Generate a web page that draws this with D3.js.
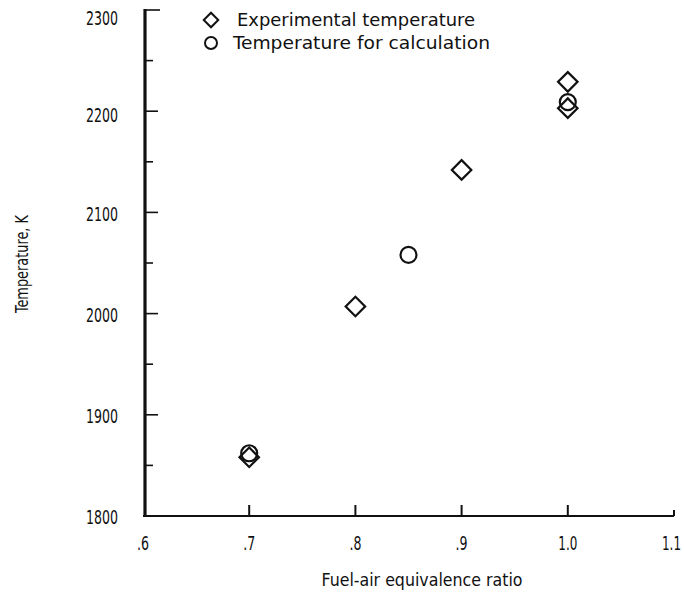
<!DOCTYPE html>
<html>
<head>
<meta charset="utf-8">
<script src="https://cdn.jsdelivr.net/npm/d3@7"></script>
<style>
  html, body { margin: 0; padding: 0; background: #fff; }
  svg text { font-family: "Liberation Sans Narrow", "DejaVu Sans Condensed", "Roboto Condensed", sans-serif; fill: #111; }
</style>
</head>
<body>
<svg id="chart" width="684" height="598"></svg>
<script>
// ---- data ----
const expPhi   = [0.70, 0.80, 0.90, 1.00, 1.00];
const expTemp  = [1858, 2007, 2142, 2229, 2203];
const calcPhi  = [0.70, 0.85, 1.00];
const calcTemp = [1862, 2058, 2209];
const xTicks = [0.6, 0.7, 0.8, 0.9, 1.0, 1.1];
const xTickLabels = [".6", ".7", ".8", ".9", "1.0", "1.1"];
const yTicks = [1800, 1900, 2000, 2100, 2200, 2300];
const yMinorTicks = [1850, 1950, 2050, 2150, 2250];
const legendLabels = ["Experimental temperature", "Temperature for calculation"];
const xTitle = "Fuel-air equivalence ratio";
const yTitle = "Temperature, K";

// ---- layout ----
const svg = d3.select("#chart");
const x = d3.scaleLinear().domain([0.6, 1.1]).range([143, 674]);
const y = d3.scaleLinear().domain([1800, 2300]).range([516, 10]);
const ink = "#111";

// axes lines
svg.append("line").attr("x1", x(0.6)).attr("x2", x(1.1)).attr("y1", y(1800)).attr("y2", y(1800))
  .attr("stroke", ink).attr("stroke-width", 2);
svg.append("line").attr("x1", 145).attr("x2", 145).attr("y1", y(2300) - 1).attr("y2", y(1800) + 1)
  .attr("stroke", ink).attr("stroke-width", 3.2);

// y ticks (inward)
svg.selectAll(".ymaj").data(yTicks.filter(d => d > 1800)).enter().append("line")
  .attr("x1", 145).attr("x2", d => d === 2300 ? 160 : 158)
  .attr("y1", d => y(d)).attr("y2", d => y(d))
  .attr("stroke", ink).attr("stroke-width", 1.6);
svg.selectAll(".ymin").data(yMinorTicks).enter().append("line")
  .attr("x1", 145).attr("x2", 153)
  .attr("y1", d => y(d)).attr("y2", d => y(d))
  .attr("stroke", ink).attr("stroke-width", 1.6);
svg.selectAll(".ylab").data(yTicks).enter().append("text")
  .attr("x", 118).attr("y", d => y(d) + (d === 2300 ? 8 : d === 2200 ? 4 : 1)).attr("dy", "0.36em")
  .attr("text-anchor", "end").attr("font-size", 20)
  .attr("textLength", 32).attr("lengthAdjust", "spacingAndGlyphs").text(d => d);

// x ticks (inward)
svg.selectAll(".xt").data(xTicks.filter(d => d > 0.6)).enter().append("line")
  .attr("x1", d => x(d)).attr("x2", d => x(d))
  .attr("y1", y(1800)).attr("y2", d => y(1800) - (d === 1.1 ? 6 : 11))
  .attr("stroke", ink).attr("stroke-width", 2);
svg.selectAll(".xlab").data(xTicks).enter().append("text")
  .attr("x", d => d === 1.1 ? x(d) + 7 : x(d)).attr("y", 550)
  .attr("text-anchor", d => d === 1.1 ? "end" : "middle").attr("font-size", 20)
  .attr("textLength", (d, i) => xTickLabels[i].length === 2 ? 12 : 19)
  .attr("lengthAdjust", "spacingAndGlyphs")
  .text((d, i) => xTickLabels[i]);

// titles
svg.append("text").attr("x", 422).attr("y", 586).attr("text-anchor", "middle")
  .attr("font-size", 18).attr("textLength", 201).attr("lengthAdjust", "spacingAndGlyphs").text(xTitle);
svg.append("text").attr("transform", "translate(28,264) rotate(-90)").attr("text-anchor", "middle")
  .attr("font-size", 18).attr("textLength", 98).attr("lengthAdjust", "spacingAndGlyphs").text(yTitle);

// markers
const diamond = d3.symbol().type(d3.symbolSquare).size(190);
svg.selectAll(".exp").data(expPhi).enter().append("path")
  .attr("d", diamond())
  .attr("transform", (d, i) => `translate(${x(d)},${y(expTemp[i])}) rotate(45)`)
  .attr("fill", "none").attr("stroke", ink).attr("stroke-width", 2.2);
svg.selectAll(".calc").data(calcPhi).enter().append("circle")
  .attr("cx", d => x(d)).attr("cy", (d, i) => y(calcTemp[i])).attr("r", 8)
  .attr("fill", "none").attr("stroke", ink).attr("stroke-width", 2.2);

// legend
const legDiamond = d3.symbol().type(d3.symbolSquare).size(105);
svg.append("path").attr("d", legDiamond())
  .attr("transform", "translate(211,20) rotate(45)")
  .attr("fill", "none").attr("stroke", ink).attr("stroke-width", 2);
svg.append("circle").attr("cx", 211).attr("cy", 43).attr("r", 6)
  .attr("fill", "none").attr("stroke", ink).attr("stroke-width", 2);
svg.append("text").attr("x", 237).attr("y", 20).attr("dy", "0.36em")
  .attr("font-size", 18).attr("textLength", 238).attr("lengthAdjust", "spacingAndGlyphs").text(legendLabels[0]);
svg.append("text").attr("x", 233).attr("y", 43).attr("dy", "0.36em")
  .attr("font-size", 18).attr("textLength", 257).attr("lengthAdjust", "spacingAndGlyphs").text(legendLabels[1]);
</script>
</body>
</html>
